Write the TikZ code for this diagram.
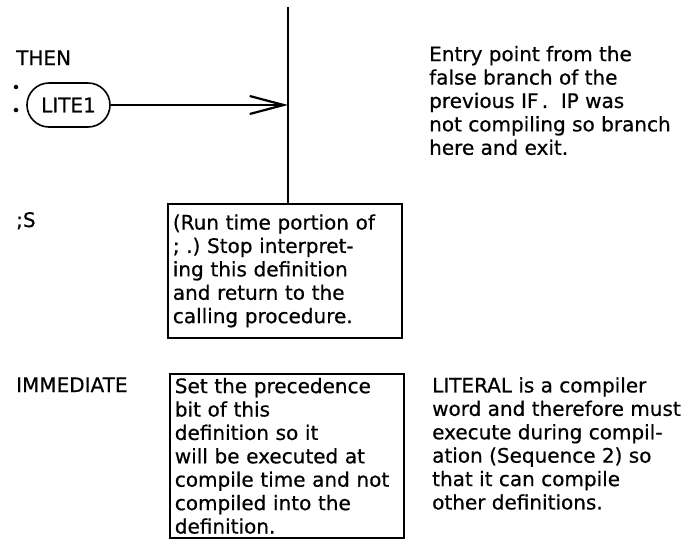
\documentclass[tikz,border=0pt]{standalone}
\usepackage{fontspec}
\setmainfont[FakeBold=0.6]{DejaVu Sans}
\usetikzlibrary{arrows.meta,shapes.misc}
\begin{document}
\begin{tikzpicture}[x=1pt, y=-1pt,
  every node/.style={font=\fontsize{20}{23.4}\selectfont, inner sep=0pt},
  word/.style={anchor=base west},
  note/.style={align=left, anchor=west},
  descbox/.style={draw, line width=1.7pt, align=left, text width=224pt, minimum width=234pt, inner xsep=5pt, anchor=north west},
  entry/.style={draw, line width=1.6pt, rounded rectangle, minimum width=83pt, minimum height=44pt},
  dotmark/.style={circle, fill, inner sep=1.6pt},
  flow/.style={line width=2.2pt}]
  \useasboundingbox (0,0) rectangle (691,550);
  % word names
  \node[word] (thenlab) at (16,65) {THEN};
  \node[word] (semislab) at (16,227) {;S};
  \node[word] (immlab) at (16,392) {IMMEDIATE};
  % entry point
  \node[dotmark] (dota) at (16,87) {};
  \node[dotmark] (dotb) at (16,110) {};
  \node[entry] (lite) at (68.5,105) {LITE1};
  \coordinate (top) at (288,7);
  \coordinate (hit) at (288,105);
  % boxes
  \node[descbox, minimum height=134pt] (semisbox) at (167,203)
    {(Run time portion of\\; .)\ Stop interpret-\\ing this definition\\and return to the\\calling procedure.};
  \node[descbox, minimum height=164pt] (immbox) at (169,373)
    {Set the precedence\\bit of this\\definition so it\\will be executed at\\compile time and not\\compiled into the\\definition.};
  \draw[flow] (top) -- (top |- semisbox.north);
  \draw[flow, -{Straight Barb[length=34pt, width=18pt]}] (lite.east) -- (hit);
  % notes
  \node[note] (entrynote) at (429,100.5)
    {Entry point from the\\false branch of the\\previous IF\,.\ \ IP was\\not compiling so branch\\here and exit.};
  \node[note] (litnote) at (432,443.5)
    {LITERAL is a compiler\\word and therefore must\\execute during compil-\\ation (Sequence 2) so\\that it can compile\\other definitions.};
\end{tikzpicture}
\end{document}
